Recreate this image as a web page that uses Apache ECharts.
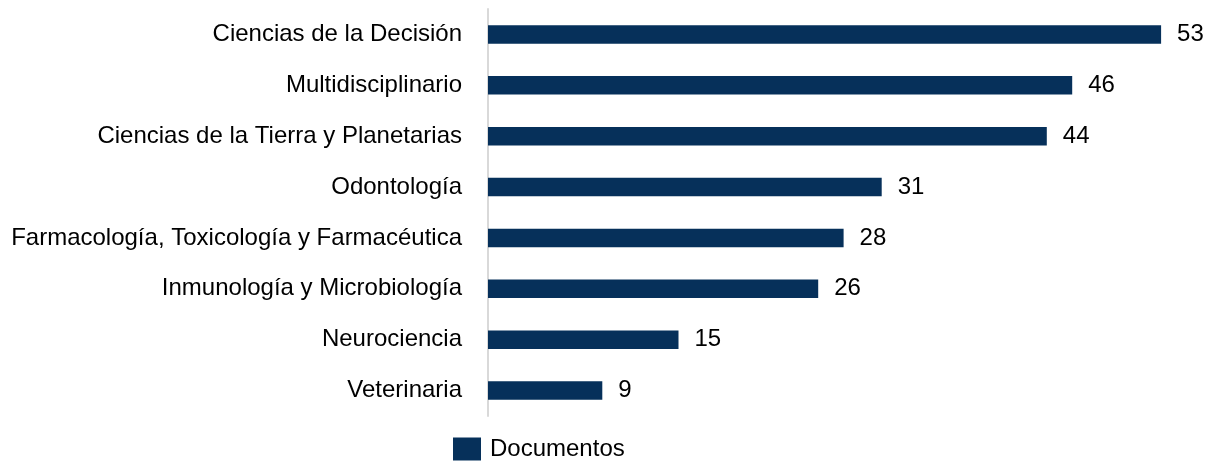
<!DOCTYPE html>
<html><head><meta charset="utf-8">
<script src="https://cdn.jsdelivr.net/npm/echarts@6/dist/echarts.min.js"></script>
<style>html,body{margin:0;padding:0;background:#fff}#c{width:1208px;height:463px}</style>
</head><body><div id="c"></div>
<script>
const categories = ["Ciencias de la Decisión","Multidisciplinario","Ciencias de la Tierra y Planetarias","Odontología","Farmacología, Toxicología y Farmacéutica","Inmunología y Microbiología","Neurociencia","Veterinaria"];
const documentos = [53,46,44,31,28,26,15,9];
const FONT = "'Liberation Sans Narrow','Arial Narrow','Liberation Sans',Arial,sans-serif";
const chart = echarts.init(document.getElementById('c'));
chart.setOption({
  animation:false,
  textStyle:{fontFamily:FONT},
  grid:{left:488, top:9, width:698.5, height:407, containLabel:false, outerBoundsMode:'none'},
  legend:{data:['Documentos'], left:453, top:437, padding:0, itemWidth:28, itemHeight:23, itemGap:10,
    icon:'rect', textStyle:{fontFamily:FONT, fontSize:24, color:'#000', padding:[2,0,0,4]}},
  xAxis:{type:'value', min:0, max:55, show:false},
  yAxis:{type:'category', data:categories, inverse:true,
    axisLine:{show:true, lineStyle:{color:'#d9d9d9', width:2}},
    axisTick:{show:false},
    axisLabel:{fontFamily:FONT, fontSize:24, color:'#000', margin:26}},
  series:[{name:'Documentos', type:'bar', data:documentos, barWidth:18.5,
    itemStyle:{color:'#06305a'},
    label:{show:true, position:'right', distance:16, fontFamily:FONT, fontSize:24, color:'#000'}}]
});
</script></body></html>
